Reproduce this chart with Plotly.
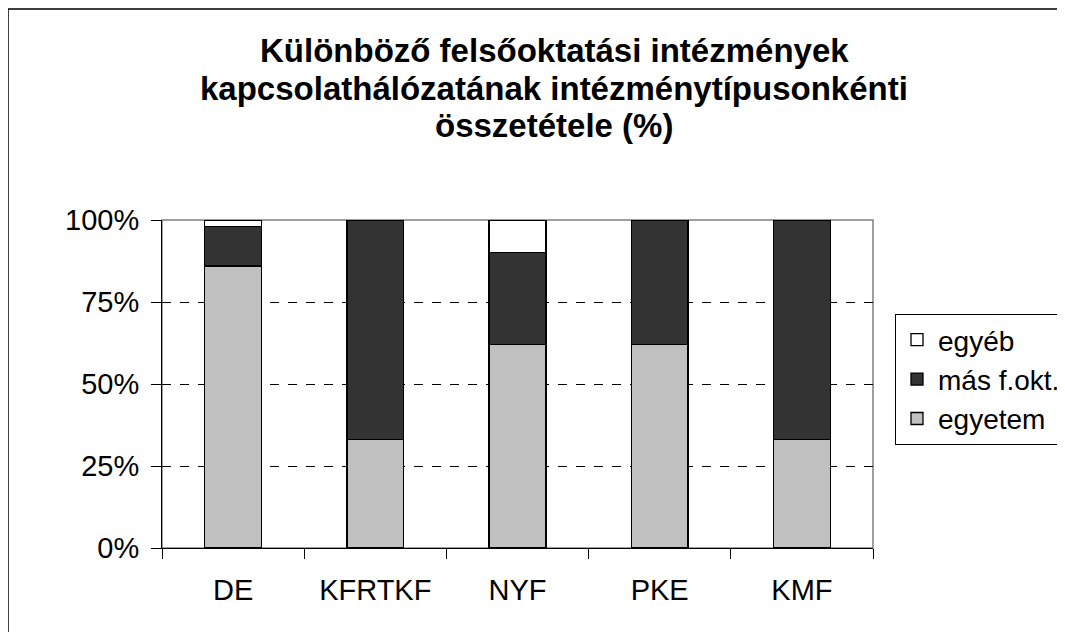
import plotly.graph_objects as go

categories = ["DE", "KFRTKF", "NYF", "PKE", "KMF"]
egyetem = [86, 33, 62, 62, 33]
mas_fokt = [12, 67, 28, 38, 67]
egyeb = [2, 0, 10, 0, 0]
tick_vals = [0, 25, 50, 75, 100]
tick_text = ["0%", "25%", "50%", "75%", "100%"]
title_lines = ["Különböző felsőoktatási intézmények",
               "kapcsolathálózatának intézménytípusonkénti",
               "összetétele (%)"]

FONT = "Arial, 'Liberation Sans', sans-serif"
OFF = 8  # page body margin
W, H = 1065 - OFF, 632 - OFF
# plot area in screen pixels
SL, SR, ST, SB = 162, 873, 220, 548
L, R, T, B = SL - OFF, SR - OFF, ST - OFF, SB - OFF
pw, ph = SR - SL, SB - ST


def px_x(x):
    return (x - SL) / pw


def px_y(y):
    return (SB - y) / ph


fig = go.Figure()
series = [("egyetem", egyetem, "#C0C0C0", 3),
          ("más f.okt.", mas_fokt, "#333333", 2),
          ("egyéb", egyeb, "#FFFFFF", 1)]
for name, vals, col, rank in series:
    fig.add_trace(go.Bar(
        x=categories, y=vals, name=name, legendrank=rank,
        marker=dict(color=col, line=dict(color="black", width=1.3)),
        width=0.4,
    ))

title_ann = [
    dict(text=line, xref="paper", yref="paper",
         x=px_x(554), y=px_y(yc), xanchor="center", yanchor="middle",
         showarrow=False, align="center",
         font=dict(family=FONT, size=33, color="black", weight="bold"))
    for line, yc in zip(title_lines, [50, 88, 125])
]

fig.update_layout(
    width=W, height=H,
    margin=dict(l=L, r=W - R, t=T, b=H - B, pad=0, autoexpand=False),
    barmode="stack",
    paper_bgcolor="white", plot_bgcolor="white",
    font=dict(family=FONT, size=28, color="black"),
    showlegend=True,
    legend=dict(
        x=px_x(895), y=px_y(314), xanchor="left", yanchor="top",
        bordercolor="black", borderwidth=1, bgcolor="white",
        traceorder="normal", tracegroupgap=8,
        font=dict(family=FONT, size=28, color="black"),
        itemwidth=32,
    ),
    xaxis=dict(
        showline=True, linecolor="black", linewidth=1,
        ticks="outside", ticklen=10, tickcolor="black", tickwidth=1,
        tickson="boundaries", showgrid=False, zeroline=False,
        ticklabelstandoff=16,
        tickfont=dict(family=FONT, size=29, color="black"),
    ),
    yaxis=dict(
        range=[0, 100], tickvals=tick_vals, ticktext=tick_text,
        showline=True, linecolor="black", linewidth=1,
        ticks="outside", ticklen=10, tickcolor="black", tickwidth=1,
        showgrid=True, gridcolor="black", griddash="dash", gridwidth=1,
        zeroline=False, ticklabelstandoff=6,
        tickfont=dict(family=FONT, size=29, color="black"),
    ),
    shapes=[
        dict(type="rect", xref="paper", yref="paper",
             x0=0, x1=1, y0=0, y1=1, line=dict(color="#808080", width=1.5),
             layer="below"),
        dict(type="rect", xref="paper", yref="paper",
             x0=px_x(8), x1=px_x(1080), y0=px_y(650), y1=px_y(9),
             line=dict(color="black", width=1.5), layer="below"),
    ],
    annotations=title_ann,
)

fig.write_html("out.html")
